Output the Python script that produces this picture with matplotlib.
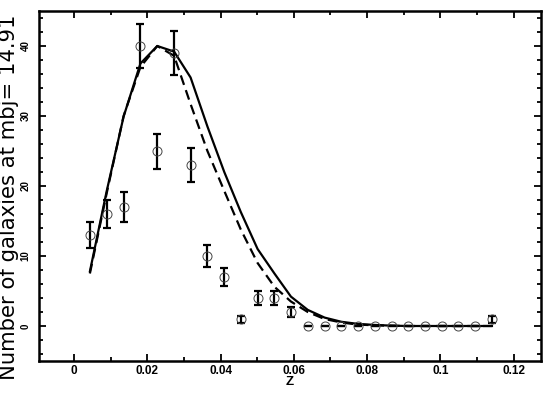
import numpy as np
import matplotlib
matplotlib.use('Agg')
import matplotlib.pyplot as plt
from matplotlib import ticker

plt.rcParams['font.family'] = ['Liberation Sans', 'DejaVu Sans']

# redshift bins (data points)
z = [0.0043, 0.0089, 0.0135, 0.0181, 0.0227, 0.0273, 0.0318, 0.0364, 0.0410,
     0.0455, 0.0501, 0.0547, 0.0592, 0.0638, 0.0684, 0.0730, 0.0775, 0.0821,
     0.0867, 0.0912, 0.0958, 0.1004, 0.1049, 0.1095, 0.1141]
counts = [13, 16, 17, 40, 25, 39, 23, 10, 7, 1, 4, 4, 2,
          0, 0, 0, 0, 0, 0, 0, 0, 0, 0, 0, 1]
errs = [1.8, 2.0, 2.1, 3.2, 2.5, 3.1, 2.4, 1.6, 1.3, 0.5, 1.0, 1.0, 0.7,
        0, 0, 0, 0, 0, 0, 0, 0, 0, 0, 0, 0.5]

# model curves on the same grid
model_solid = [7.8, 19.3, 29.9, 37.5, 40.0, 39.2, 35.5, 28.5, 22.0, 16.3, 11.0,
               7.5, 4.2, 2.3, 1.2, 0.6, 0.3, 0.15, 0.05, 0, 0, 0, 0, 0, 0]
model_dashed = [7.5, 19.0, 30.0, 37.0, 40.0, 38.6, 31.7, 25.0, 19.3, 13.8, 9.0,
                5.6, 3.5, 2.0, 1.0, 0.5, 0.2, 0.1, 0.03, 0, 0, 0, 0, 0, 0]

xtick_vals = [0, 0.02, 0.04, 0.06, 0.08, 0.1, 0.12]
xtick_labels = ['0', '0.02', '0.04', '0.06', '0.08', '0.1', '0.12']
ytick_vals = [0, 10, 20, 30, 40]

fig = plt.figure(figsize=(5.45, 3.93), dpi=100)
ax = fig.add_axes([39/545, 32/393, 502/545, 350/393])

ax.plot(z, model_solid, color='black', lw=1.6, linestyle='-')
ax.plot(z, model_dashed, color='black', lw=1.6, linestyle=(0, (4.5, 2.5)))

ax.errorbar(z, counts, yerr=errs, fmt='none', ecolor='black', elinewidth=1.6,
            capsize=2.6, capthick=1.6)
ax.plot(z, counts, 'o', markersize=6.5, markerfacecolor='none',
        markeredgecolor='#444444', markeredgewidth=0.7)

ax.set_xlim(-0.0096, 0.1275)
ax.set_ylim(-5, 45)

ax.xaxis.set_major_locator(ticker.FixedLocator(xtick_vals))
ax.set_xticklabels(xtick_labels, fontsize=8.5, fontweight='bold')
ax.xaxis.set_minor_locator(ticker.MultipleLocator(0.01))
ax.yaxis.set_major_locator(ticker.FixedLocator(ytick_vals))
ax.set_yticklabels([str(v) for v in ytick_vals], fontsize=7, fontweight='bold',
                   rotation=90, va='center')
ax.yaxis.set_minor_locator(ticker.MultipleLocator(2))

ax.tick_params(which='both', direction='in', top=True, right=True, width=1.3)
ax.tick_params(which='major', length=5)
ax.tick_params(which='minor', length=3)
ax.tick_params(axis='x', pad=3)
ax.tick_params(axis='y', pad=6)
for s in ax.spines.values():
    s.set_linewidth(1.8)

ax.set_xlabel('Z', fontsize=9.5, fontweight='bold', labelpad=-1)
ax.set_ylabel('Number of galaxies at mbj= 14.91', fontsize=15.2,
              family='DejaVu Sans')
ax.yaxis.set_label_coords(-0.04, 0.468)

fig.savefig('out.png', dpi=100)
